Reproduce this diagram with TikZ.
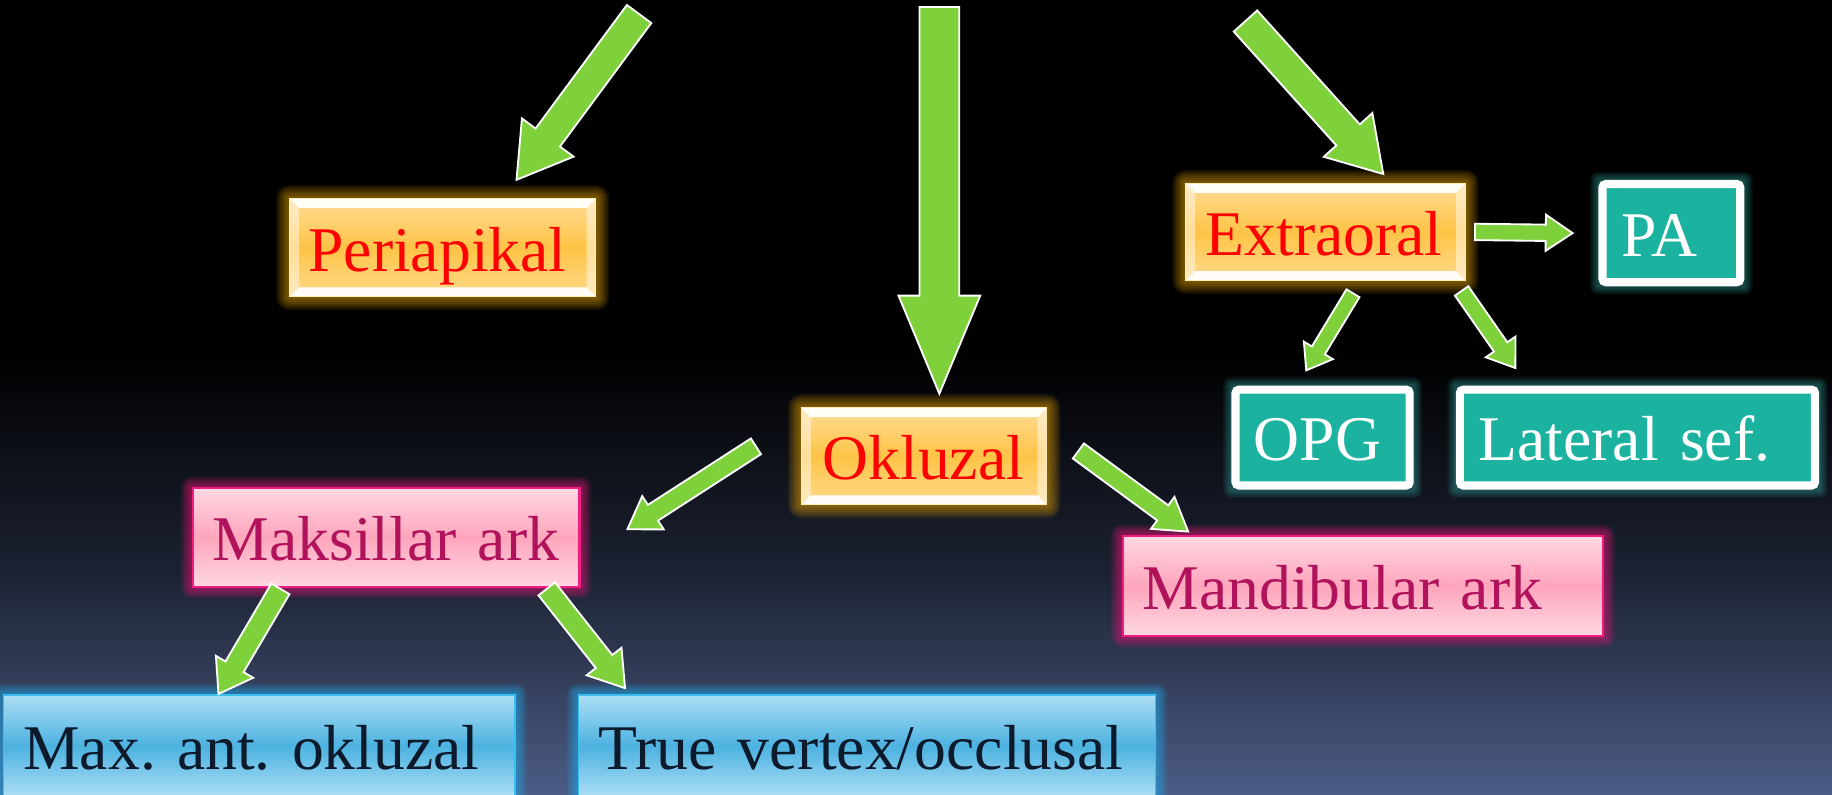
\documentclass[tikz,border=0pt]{standalone}
\usepackage{fontspec}
\setmainfont{Liberation Serif}
\usetikzlibrary{calc}
\definecolor{agreen}{RGB}{127,209,59}
\definecolor{bgbot}{RGB}{76,92,134}
\definecolor{bgmid}{RGB}{28,34,50}
\definecolor{oTop}{RGB}{255,220,150}
\definecolor{oMid}{RGB}{255,196,70}
\definecolor{oBot}{RGB}{255,218,140}
\definecolor{oEdge}{RGB}{255,236,190}
\definecolor{oGlow}{RGB}{255,180,0}
\definecolor{pTop}{RGB}{255,216,226}
\definecolor{pMid}{RGB}{255,165,188}
\definecolor{pEdge}{RGB}{240,30,130}
\definecolor{pText}{RGB}{176,18,92}
\definecolor{pGlow}{RGB}{235,20,120}
\definecolor{bTop}{RGB}{172,222,246}
\definecolor{bMid}{RGB}{76,178,224}
\definecolor{bEdge}{RGB}{60,190,240}
\definecolor{bText}{RGB}{12,26,44}
\definecolor{bGlow}{RGB}{30,175,240}
\definecolor{tealc}{RGB}{27,178,160}
\definecolor{tGlow}{RGB}{60,200,190}

\pgfdeclarelayer{bgl}
\pgfdeclarelayer{glowl}
\pgfsetlayers{bgl,glowl,main}

% #1 style, #2 name, #3 x1, #4 y1, #5 x2, #6 y2, #7 inset, #8 text pad, #9 text
\newcommand{\mkbox}[9]{%
  \pgfmathsetmacro{\bxw}{(#5-#3-2*#7)*0.1}%
  \pgfmathsetmacro{\bxh}{(#6-#4-2*#7)*0.1}%
  \pgfmathsetmacro{\bxs}{(#8-#7)*0.1}%
  \pgfmathsetmacro{\bxt}{(#5-#3-2*#8)*0.1}%
  \node[#1, minimum width=\bxw mm, minimum height=\bxh mm, inner xsep=\bxs mm,
        text width=\bxt mm] (#2) at ({(#3+#5)/2},{(#4+#6)/2}) {\mbox{#9}};}

% #1 node, #2 colour, #3 steps, #4 step size, #5 opacity
\newcommand{\mkglow}[5]{%
  \begin{pgfonlayer}{glowl}
  \foreach \gi in {1,...,#3}{%
    \fill[#2, opacity=#5, rounded corners={\gi*#4*0.1mm}]
      ($(#1.north west)+(-\gi*#4,-\gi*#4)$) rectangle ($(#1.south east)+(\gi*#4,\gi*#4)$);}
  \end{pgfonlayer}}

% #1 from, #2 to, #3 shaft width, #4 head width, #5 head length (units of 0.1mm)
\newcommand{\mkarrow}[5]{%
  \pgfpointdiff{\pgfpointanchor{#1}{center}}{\pgfpointanchor{#2}{center}}%
  \pgfgetlastxy{\bdx}{\bdy}%
  \pgfmathsetmacro{\bang}{atan2(\bdy,\bdx)}%
  \pgfmathsetmacro{\blen}{veclen(\bdx,\bdy)}%
  \pgfmathsetmacro{\bsw}{#3*0.284528/2}%
  \pgfmathsetmacro{\bhw}{#4*0.284528/2}%
  \pgfmathsetmacro{\bhb}{\blen-#5*0.284528}%
  \draw[barrowstyle, shift={(#1)}, rotate=\bang]
    (0pt,-\bsw pt) -- (\bhb pt,-\bsw pt) -- (\bhb pt,-\bhw pt) -- (\blen pt,0pt)
    -- (\bhb pt,\bhw pt) -- (\bhb pt,\bsw pt) -- (0pt,\bsw pt) -- cycle;}

\tikzset{
  boxtext/.style={font=\fontsize{15.5}{18}\selectfont\frenchspacing, text height=15.5pt,
    text depth=4.12pt, align=left, inner ysep=0pt, rectangle},
  orangebox/.style={boxtext, draw=oEdge, line width=0.25pt,
    top color=oTop, bottom color=oBot, middle color=oMid, text=red,
    path picture={
      \fill[white!97!yellow] (path picture bounding box.north west) -- (path picture bounding box.north east)
        -- ([xshift=-0.8mm,yshift=-0.8mm]path picture bounding box.north east)
        -- ([xshift=0.8mm,yshift=-0.8mm]path picture bounding box.north west) -- cycle;
      \fill[white!92!oTop] (path picture bounding box.south west) -- (path picture bounding box.south east)
        -- ([xshift=-0.8mm,yshift=0.8mm]path picture bounding box.south east)
        -- ([xshift=0.8mm,yshift=0.8mm]path picture bounding box.south west) -- cycle;
      \fill[white, opacity=0.45] (path picture bounding box.north west)
        -- ([xshift=0.8mm,yshift=-0.8mm]path picture bounding box.north west)
        -- ([xshift=0.8mm,yshift=0.8mm]path picture bounding box.south west)
        -- (path picture bounding box.south west) -- cycle;
      \fill[white, opacity=0.45] (path picture bounding box.north east)
        -- ([xshift=-0.8mm,yshift=-0.8mm]path picture bounding box.north east)
        -- ([xshift=-0.8mm,yshift=0.8mm]path picture bounding box.south east)
        -- (path picture bounding box.south east) -- cycle;
    }},
  pinkbox/.style={boxtext, draw=pEdge, line width=0.5pt,
    top color=pTop, bottom color=pTop, middle color=pMid, text=pText},
  bluebox/.style={boxtext, draw=bEdge, line width=0.4pt,
    top color=bTop, bottom color=bTop, middle color=bMid, text=bText},
  tealbox/.style={boxtext, draw=white, line width=0.7mm, rounded corners=0.3mm,
    fill=tealc, text=white},
  barrowstyle/.style={fill=agreen, draw=white, line width=0.45pt, line join=miter},
}

\begin{document}
\begin{tikzpicture}[x=0.1mm, y=-0.1mm]
\useasboundingbox (0,0) rectangle (1568,680);
\begin{pgfonlayer}{bgl}
  \fill[black] (0,0) rectangle (1568,680);
  \shade[top color=black, bottom color=bgbot, middle color=bgmid] (0,300) rectangle (1568,680);
\end{pgfonlayer}

% boxes
\mkbox{orangebox}{peri}{248}{170}{510}{254}{0}{16}{Periapikal}
\mkbox{orangebox}{extra}{1015}{157}{1254}{240}{0}{17}{Extraoral}
\mkbox{orangebox}{okl}{686}{349}{896}{432}{0}{18}{Okluzal}
\mkbox{tealbox}{pa}{1368}{154}{1493}{245}{3.5}{20}{PA}
\mkbox{tealbox}{opg}{1054}{330}{1210}{419}{3.5}{19}{OPG}
\mkbox{tealbox}{lat}{1246}{330}{1557}{419}{3.5}{19.5}{Lateral sef.}
\mkbox{pinkbox}{maks}{165}{418}{496}{502}{0}{17}{Maksillar ark}
\mkbox{pinkbox}{mand}{961}{459}{1372}{544}{0}{17}{Mandibular ark}
\mkbox{bluebox}{maxant}{3}{595}{441}{682}{0}{17}{Max. ant. okluzal}
\mkbox{bluebox}{truev}{495}{595}{989}{682}{0}{17.5}{True vertex/occlusal}

% glows
\mkglow{peri}{oGlow}{8}{1.4}{0.08}
\mkglow{extra}{oGlow}{8}{1.4}{0.08}
\mkglow{okl}{oGlow}{8}{1.4}{0.08}
\mkglow{pa}{tGlow}{6}{1.2}{0.07}
\mkglow{opg}{tGlow}{6}{1.2}{0.07}
\mkglow{lat}{tGlow}{6}{1.2}{0.07}
\mkglow{maks}{pGlow}{7}{1.3}{0.10}
\mkglow{mand}{pGlow}{7}{1.3}{0.10}
\mkglow{maxant}{bGlow}{7}{1.3}{0.10}
\mkglow{truev}{bGlow}{7}{1.3}{0.10}

% arrow end points
\coordinate (a1s) at (547,12);   \coordinate (a1e) at (442,154);
\coordinate (a2s) at (804,6);    \coordinate (a2e) at (804,337);
\coordinate (a3s) at (1066,18);  \coordinate (a3e) at (1184,149);
\coordinate (a4s) at ($(extra.east)+(8,0)$); \coordinate (a4e) at ($(pa.west)+(-22,0)$);
\coordinate (a5s) at (1158,251); \coordinate (a5e) at (1118,317);
\coordinate (a6s) at (1251,249); \coordinate (a6e) at (1297,315);
\coordinate (a7s) at (647,382);  \coordinate (a7e) at (537,453);
\coordinate (a8s) at (923,386);  \coordinate (a8e) at (1017,455);
\coordinate (a9s) at (240,504);  \coordinate (a9e) at (187,594);
\coordinate (a10s) at (468,504); \coordinate (a10e) at (535,589);

\mkarrow{a1s}{a1e}{26}{55}{45}
\mkarrow{a2s}{a2e}{34}{70}{84}
\mkarrow{a3s}{a3e}{27}{56}{45}
\mkarrow{a4s}{a4e}{14}{31}{23}
\mkarrow{a5s}{a5e}{13}{29}{20}
\mkarrow{a6s}{a6e}{14}{31}{22}
\mkarrow{a7s}{a7e}{16}{34}{26}
\mkarrow{a8s}{a8e}{16}{34}{27}
\mkarrow{a9s}{a9e}{18}{37}{27}
\mkarrow{a10s}{a10e}{18}{38}{29}
\end{tikzpicture}
\end{document}
